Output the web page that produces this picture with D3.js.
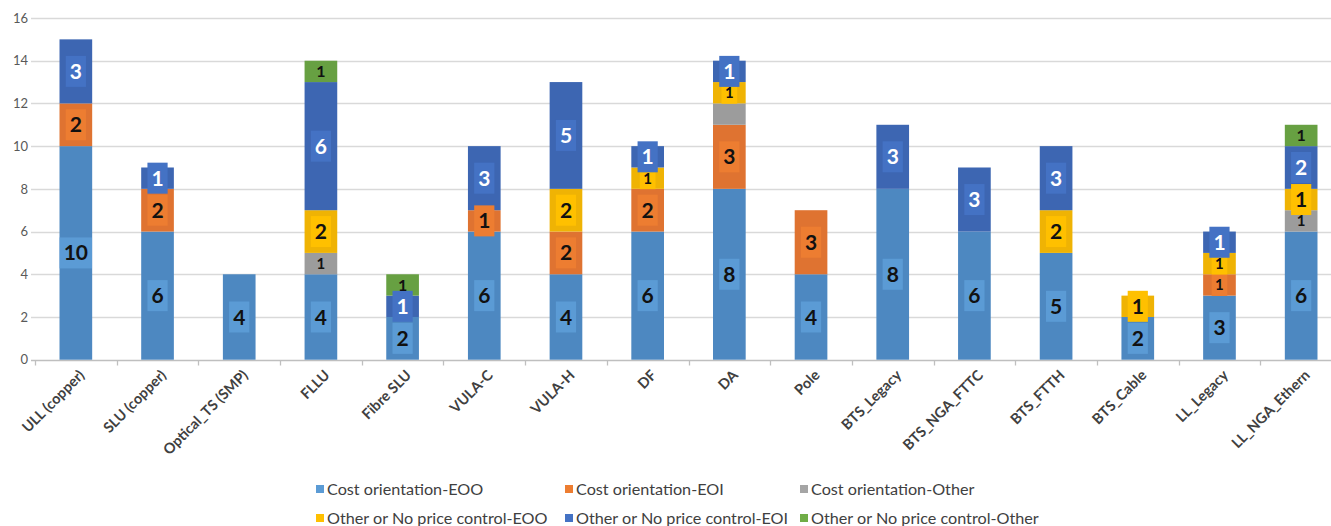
<!DOCTYPE html>
<html>
<head>
<meta charset="utf-8">
<script src="https://cdnjs.cloudflare.com/ajax/libs/d3/7.8.5/d3.min.js"></script>
<style>
  html, body { margin: 0; padding: 0; background: #ffffff; }
  svg { display: block; font-family: Lato, "Open Sans", "Liberation Sans", sans-serif; }
</style>
</head>
<body>
<svg id="chart" width="1331" height="526"></svg>
<script>
// Access products by price-control regime (number of countries)
const categories = ["ULL (copper)", "SLU (copper)", "Optical_TS (SMP)", "FLLU", "Fibre SLU",
  "VULA-C", "VULA-H", "DF", "DA", "Pole", "BTS_Legacy", "BTS_NGA_FTTC", "BTS_FTTH",
  "BTS_Cable", "LL_Legacy", "LL_NGA_Ethern"];

const seriesNames = ["Cost orientation-EOO", "Cost orientation-EOI", "Cost orientation-Other",
  "Other or No price control-EOO", "Other or No price control-EOI", "Other or No price control-Other"];

const costEOO   = [10, 6, 4, 4, 2, 6, 4, 6, 8, 4, 8, 6, 5, 2, 3, 6];
const costEOI   = [ 2, 2, 0, 0, 0, 1, 2, 2, 3, 3, 0, 0, 0, 0, 1, 0];
const costOther = [ 0, 0, 0, 1, 0, 0, 0, 0, 1, 0, 0, 0, 0, 0, 0, 1];
const otherEOO  = [ 0, 0, 0, 2, 0, 0, 2, 1, 1, 0, 0, 0, 2, 1, 1, 1];
const otherEOI  = [ 3, 1, 0, 6, 1, 3, 5, 1, 1, 0, 3, 3, 3, 0, 1, 2];
const otherOther= [ 0, 0, 0, 1, 1, 0, 0, 0, 0, 0, 0, 0, 0, 0, 0, 1];

const yTicks = [0, 2, 4, 6, 8, 10, 12, 14, 16];

// segments whose value label is not shown
const hiddenLabels = ["DA|Cost orientation-Other"];
// segments whose value label uses the compact size
const compactLabels = ["DF|Other or No price control-EOO", "DA|Other or No price control-EOO",
  "LL_Legacy|Other or No price control-EOO", "LL_Legacy|Cost orientation-EOI"];

const seriesValues = [costEOO, costEOI, costOther, otherEOO, otherEOI, otherOther];

// ---- styling ----
const barColor   = ["#4d88c1", "#df7331", "#9c9c9c", "#efb304", "#3d66b2", "#67a042"];
const boxColor   = ["#5b9bd5", "#ed7d31", "#a5a5a5", "#ffc000", "#4472c4", "#70ad47"];
const textColor  = ["#111", "#111", "#111", "#111", "#ffffff", "#111"];
const labelSize  = [21, 21, 15, 21, 21, 16];
const hasBox     = [true, true, false, true, true, false];

const rows = categories.map((c, i) => {
  const r = { cat: c };
  seriesNames.forEach((s, k) => { r[s] = seriesValues[k][i]; });
  return r;
});
const stacked = d3.stack().keys(seriesNames)(rows);

const svg = d3.select("#chart");
const x = d3.scaleBand().domain(categories).range([35, 1342]).paddingInner(0.6).paddingOuter(0.3);
const y = d3.scaleLinear().domain([0, 16]).range([359.7, 18]);

// gridlines
svg.append("g").selectAll("line").data(yTicks.filter(t => t > 0)).join("line")
  .attr("x1", 31).attr("x2", 1331)
  .attr("y1", d => Math.round(y(d)) + 0.5).attr("y2", d => Math.round(y(d)) + 0.5)
  .attr("stroke", "#d9d9d9").attr("stroke-width", 1.3);

// y axis labels
const yAxis = d3.axisLeft(y).tickValues(yTicks).tickSize(0).tickPadding(0);
const gy = svg.append("g").attr("transform", "translate(28,0)").call(yAxis);
gy.select(".domain").remove();
gy.selectAll("text").attr("font-size", 13).attr("fill", "#595959")
  .attr("font-family", "Lato, 'Open Sans', sans-serif");

// x axis
const gx = svg.append("g").attr("transform", `translate(0,${Math.round(y(0)) + 0.5})`);
gx.append("line").attr("x1", 31).attr("x2", 1331).attr("stroke", "#bfbfbf").attr("stroke-width", 1.3);
const step = x.step();
const boundaries = d3.range(categories.length + 1).map(i => x(categories[0]) - x.paddingOuter() * step + i * step);
gx.selectAll("line.tick").data(boundaries).join("line").attr("class", "tick")
  .attr("x1", d => Math.round(d) + 0.5).attr("x2", d => Math.round(d) + 0.5)
  .attr("y1", 0).attr("y2", 5).attr("stroke", "#bfbfbf").attr("stroke-width", 1.3);
gx.selectAll("text").data(categories).join("text")
  .attr("transform", d => `translate(${x(d) + x.bandwidth() / 2 + 6},12) rotate(-45)`)
  .attr("text-anchor", "end").attr("dy", "0.35em")
  .attr("font-size", 14.5).attr("font-weight", 700).attr("fill", "#404040")
  .text(d => d);

// bars
const layers = svg.append("g").selectAll("g").data(stacked).join("g")
  .attr("fill", (d, i) => barColor[i]);
layers.selectAll("rect").data(d => d.filter(s => s[1] > s[0])).join("rect")
  .attr("x", d => x(d.data.cat))
  .attr("width", x.bandwidth())
  .attr("y", d => y(d[1]))
  .attr("height", d => y(d[0]) - y(d[1]));

// value labels
const labelLayer = svg.append("g");
stacked.forEach((layer, k) => {
  layer.forEach(seg => {
    const v = seg[1] - seg[0];
    const key = seg.data.cat + "|" + layer.key;
    if (v <= 0 || hiddenLabels.includes(key)) return;
    const compact = compactLabels.includes(key);
    const size = compact ? 15 : labelSize[k];
    const cx = x(seg.data.cat) + x.bandwidth() / 2;
    const cy = y((seg[0] + seg[1]) / 2);
    const g = labelLayer.append("g");
    const t = g.append("text")
      .attr("x", cx).attr("y", cy).attr("dy", "0.36em")
      .attr("text-anchor", "middle")
      .attr("font-size", size).attr("font-weight", 700)
      .attr("fill", textColor[k])
      .text(v);
    if (hasBox[k]) {
      const w = t.node().getComputedTextLength() + (compact ? 7 : 8);
      const h = compact ? 22 : 31;
      g.insert("rect", "text")
        .attr("x", cx - w / 2).attr("y", cy - h / 2)
        .attr("width", w).attr("height", h)
        .attr("fill", boxColor[k]);
    }
  });
});

// legend
const legendPos = [[316, 489], [565, 489], [800, 489], [316, 518], [565, 518], [800, 518]];
const legend = svg.append("g").selectAll("g").data(seriesNames).join("g")
  .attr("transform", (d, i) => `translate(${legendPos[i][0]},${legendPos[i][1]})`);
legend.append("rect").attr("x", 0).attr("y", -4).attr("width", 8).attr("height", 8)
  .attr("fill", (d, i) => boxColor[i]);
legend.append("text").attr("x", 11).attr("dy", "0.35em")
  .attr("font-size", 16.2).attr("fill", "#404040").text(d => d);
</script>
</body>
</html>
